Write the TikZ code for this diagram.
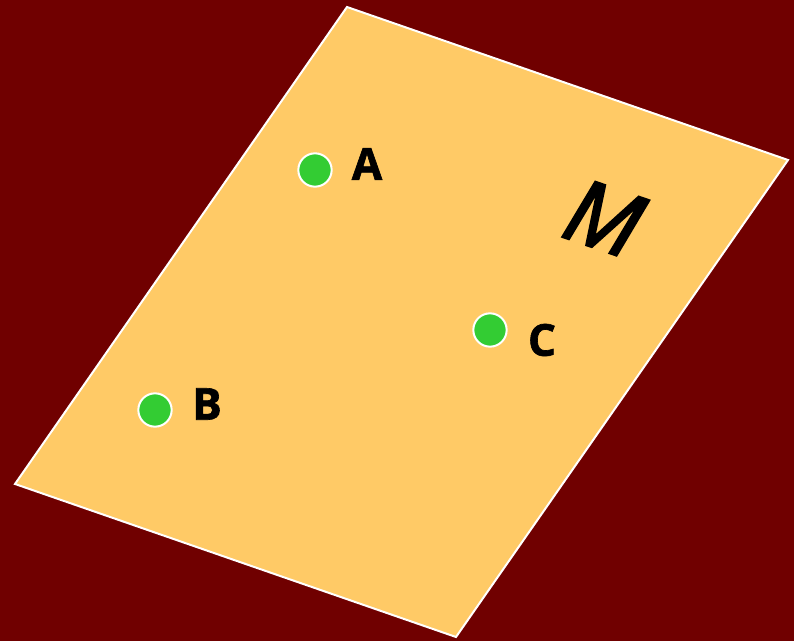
\documentclass[tikz,border=0pt]{standalone}
\usepackage{fontspec}
\setsansfont{Open Sans}
\usetikzlibrary{positioning}
\definecolor{bgred}{HTML}{700000}
\definecolor{planefill}{HTML}{FFCA66}
\definecolor{ptgreen}{HTML}{33CC33}

\begin{document}
\begin{tikzpicture}[
    x=0.75pt, y=-0.75pt,
    pt/.style={circle, draw=white, line width=1.5pt, fill=ptgreen,
               minimum size=25pt, inner sep=0pt},
    lbl/.style={font=\sffamily\bfseries\fontsize{33}{38}\selectfont\addfontfeature{FakeBold=1.5}, inner sep=0pt}
]
    % background and plane
    \fill[bgred] (0,0) rectangle (794,641);
    \useasboundingbox (0,0) rectangle (794,641);
    \coordinate (p1) at (347,7);
    \coordinate (p2) at (788,160);
    \coordinate (p3) at (456,637);
    \coordinate (p4) at (15,484);
    \filldraw[fill=planefill, draw=white, line width=1.5pt] (p1) -- (p2) -- (p3) -- (p4) -- cycle;
    % points
    \node[pt] (A) at (315,170) {};
    \node[pt] (B) at (155,410) {};
    \node[pt] (C) at (490,330) {};
    \node[lbl] (la) at (367,164) {A};
    \node[lbl] (lb) at (207,404) {B};
    \node[lbl] (lc) at (542,340) {C};
    % plane name
    \node[font=\sffamily\itshape\fontsize{66}{72}\selectfont\addfontfeature{FakeBold=2.5}, rotate=-19, inner sep=0pt] (M) at (604,218) {M};
\end{tikzpicture}
\end{document}
